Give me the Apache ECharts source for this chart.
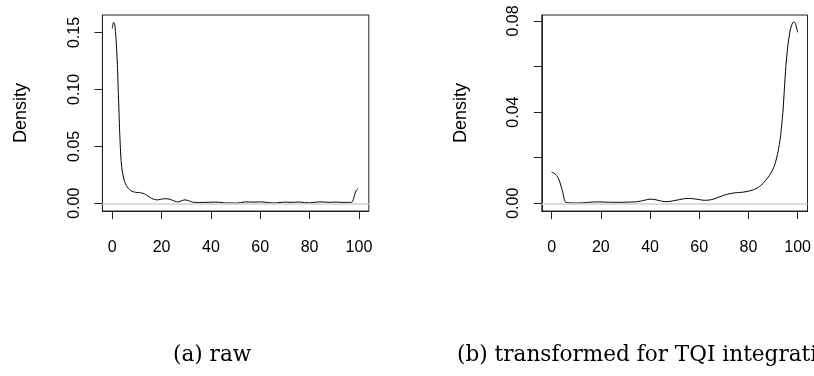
<!DOCTYPE html>
<html>
<head>
<meta charset="utf-8">
<script src="https://cdn.jsdelivr.net/npm/echarts@6/dist/echarts.min.js"></script>
<style>
  html, body { margin: 0; padding: 0; background: #fff; }
  #main { width: 814px; height: 376px; }
</style>
</head>
<body>
<div id="main"></div>
<script>
// (a) raw density
const rawX = [0, 0.5, 1, 1.5, 2, 2.5, 3, 3.5, 4, 5, 6, 7, 8, 9, 10, 11, 12, 13, 14, 15, 16, 17, 18, 19, 20,
  21.5, 23, 24.5, 26, 27, 28, 29.5, 31, 32.5, 34, 36, 38, 40, 42, 44, 46, 48, 50, 52, 54, 56, 58, 60,
  62, 64, 66, 68, 70, 72, 74, 76, 78, 80, 82, 84, 86, 88, 90, 92, 94, 96, 97.2, 97.8, 98.4, 99, 99.7];
const rawY = [0.1535, 0.159, 0.157, 0.145, 0.125, 0.095, 0.063, 0.040, 0.029, 0.019, 0.0145, 0.012, 0.0105,
  0.0098, 0.0095, 0.0094, 0.0090, 0.0082, 0.0070, 0.0055, 0.0043, 0.0034, 0.0030, 0.0032, 0.0036,
  0.0040, 0.0037, 0.0025, 0.0014, 0.0013, 0.0022, 0.0030, 0.0022, 0.0010, 0.0007, 0.0007, 0.0008,
  0.0009, 0.0010, 0.0007, 0.0003, 0.0003, 0.0001, 0.0006, 0.0012, 0.0011, 0.0010, 0.0012, 0.0009,
  0.0004, 0.0003, 0.0007, 0.0010, 0.0008, 0.0009, 0.0011, 0.0006, 0.0004, 0.0008, 0.0012, 0.0011,
  0.0008, 0.0010, 0.0009, 0.0007, 0.0008, 0.0009, 0.0040, 0.0085, 0.0115, 0.0130];

// (b) transformed density
const tqiX = [0, 1, 2, 3, 3.7, 4.5, 5.2, 5.8, 7, 10, 13, 16, 19, 22, 25, 28, 31, 34, 36, 38, 40, 42, 44,
  46, 48, 50, 52, 54, 56, 58, 60, 62, 64, 66, 68, 70, 72, 74, 76, 78, 80, 82, 84, 86, 88, 90, 91, 92,
  93, 94, 94.6, 95.2, 96, 97, 98, 98.6, 99.2, 99.6, 100];
const tqiY = [0.0136, 0.0132, 0.0122, 0.0103, 0.0080, 0.0050, 0.0015, 0.0003, 0.0002, 0.0001, 0.0002,
  0.0005, 0.0006, 0.0005, 0.0004, 0.0004, 0.0005, 0.0006, 0.0009, 0.0014, 0.0018, 0.0016, 0.0011,
  0.0007, 0.0008, 0.0012, 0.0016, 0.0020, 0.0021, 0.0019, 0.0016, 0.0013, 0.0014, 0.0019, 0.0027,
  0.0035, 0.0041, 0.0045, 0.0047, 0.0049, 0.0053, 0.0059, 0.0070, 0.0088, 0.0114, 0.0150, 0.0180,
  0.0225, 0.0290, 0.0400, 0.0500, 0.0600, 0.0690, 0.0760, 0.0793, 0.0795, 0.0785, 0.0768, 0.0750];

const xTicks = [0, 20, 40, 60, 80, 100];
const rawYTicks = [0, 0.05, 0.10, 0.15];
const tqiYTicks = [0, 0.02, 0.04, 0.06, 0.08];
const tqiYLabels = [0, 0.04, 0.08];
const captions = ['(a) raw', '(b) transformed for TQI integration'];

const sans = 'Liberation Sans';
const pair = (xs, ys) => xs.map((x, i) => [x, ys[i]]);

function xAxisFor(idx) {
  return {
    type: 'value', gridIndex: idx, min: -4, max: 104,
    splitLine: { show: false },
    axisLine: { show: true, onZero: false, lineStyle: { color: '#222', width: 1 } },
    axisTick: { show: true, inside: false, length: 8, customValues: xTicks, lineStyle: { color: '#222' } },
    axisLabel: { customValues: xTicks, margin: 29, fontFamily: sans, fontSize: 16, color: '#000' }
  };
}
function yAxisFor(idx, min, max, ticks, labels) {
  return {
    type: 'value', gridIndex: idx, min: min, max: max,
    name: 'Density', nameLocation: 'middle', nameRotate: 90, nameGap: 72,
    nameTextStyle: { fontFamily: sans, fontSize: 18, color: '#000' },
    splitLine: { show: false },
    axisLine: { show: true, onZero: false, lineStyle: { color: '#222', width: 1 } },
    axisTick: { show: true, length: 8, customValues: ticks, lineStyle: { color: '#222' } },
    axisLabel: {
      customValues: labels, rotate: 90, margin: 20, fontFamily: sans, fontSize: 16, color: '#000',
      formatter: v => v.toFixed(2)
    }
  };
}
function densityLine(idx, data) {
  return {
    type: 'line', xAxisIndex: idx, yAxisIndex: idx, data: data,
    showSymbol: false, smooth: 0.25, clip: false, silent: true,
    lineStyle: { color: '#000', width: 1 },
    markLine: {
      silent: true, symbol: 'none', label: { show: false },
      lineStyle: { color: '#d0d0d0', type: 'solid', width: 1.5 },
      data: [{ yAxis: 0 }]
    },
    z: 3
  };
}

const chart = echarts.init(document.getElementById('main'));
chart.setOption({
  animation: false,
  backgroundColor: '#fff',
  grid: [
    { left: 102.4, top: 15, width: 266.4, height: 196, show: true, borderColor: '#222', borderWidth: 1 },
    { left: 541.8, top: 15, width: 266, height: 196, show: true, borderColor: '#222', borderWidth: 1 }
  ],
  xAxis: [xAxisFor(0), xAxisFor(1)],
  yAxis: [
    yAxisFor(0, -0.0068, 0.1654, rawYTicks, rawYTicks),
    yAxisFor(1, -0.0034, 0.0826, tqiYTicks, tqiYLabels)
  ],
  series: [densityLine(0, pair(rawX, rawY)), densityLine(1, pair(tqiX, tqiY))],
  graphic: [
    { type: 'text', left: 173, top: 344, style: { text: captions[0], font: '21.6px "DejaVu Serif"', fill: '#000' } },
    { type: 'text', left: 457, top: 344, style: { text: captions[1], font: '21.6px "DejaVu Serif"', fill: '#000' } }
  ]
});
</script>
</body>
</html>
